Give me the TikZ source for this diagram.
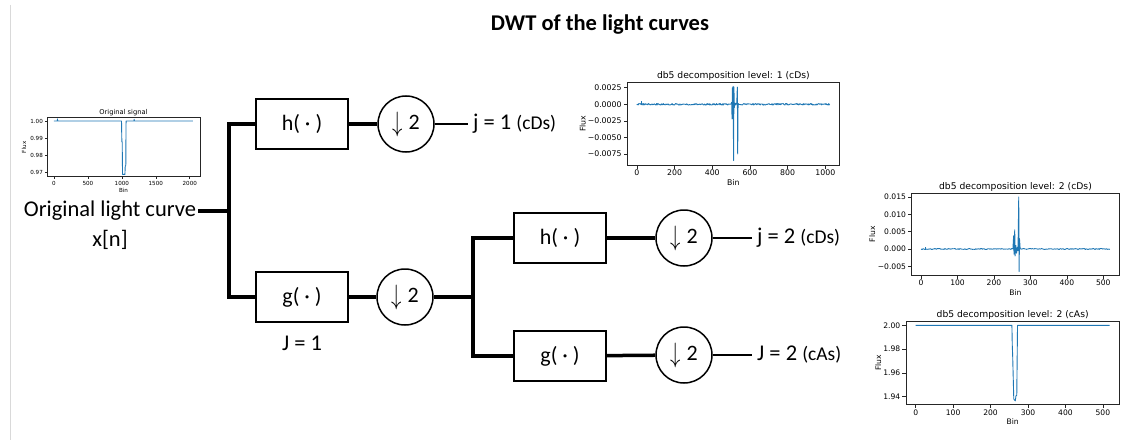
\documentclass[tikz,border=0pt]{standalone}
\usepackage{fontspec}
\setmainfont{Carlito}
\newfontfamily\plotfont{DejaVu Sans}
\usepackage{graphicx}
\usepackage{xcolor}
\usepackage{tikz}
\definecolor{mplblue}{HTML}{1F77B4}

\begin{document}
\begin{tikzpicture}[
    x=1pt, y=-1pt,
    filterbox/.style={draw=black, line width=1.5pt, minimum width=92pt, minimum height=50pt, inner sep=0pt, font=\fontsize{22}{26}\selectfont},
    downbox/.style={circle, draw=black, line width=1.5pt, minimum size=56pt, inner sep=0pt, font=\fontsize{22}{26}\selectfont},
    wire/.style={line width=3.5pt},
    thinwire/.style={line width=1.5pt},
    bigtext/.style={font=\fontsize{22.5}{27}\selectfont, inner sep=2pt},
    outlabel/.style={anchor=west, inner sep=5pt, font=\fontsize{22.5}{26}\selectfont},
    heading/.style={font=\bfseries\fontsize{22.5}{27}\selectfont},
    plotframe/.style={draw=black!85, line width=0.6pt},
    datacurve/.style={draw=mplblue, line width=0.9pt, line join=round},
    ticklab/.style={font=\plotfont\fontsize{#1}{#1}\selectfont, inner sep=0pt}
]
\useasboundingbox (0,0) rectangle (1121,444);
\pgfmathsetseed{42}
\draw[black!15, line width=1pt] (10,5) -- (10,440);

\node[heading] (title) at (600,25) {DWT of the light curves};

% filter bank
\node[bigtext] (src) at (110,211) {Original light curve};
\node[bigtext] (srcx) at (110,240) {x[n]};
\coordinate (split1) at (229,211);

\node[filterbox] (h1) at (302,124) {h(\ ·\ )};
\node[downbox] (d1) at (406,124) {\raisebox{-2pt}{\scalebox{1}[1.35]{$\downarrow$}}\;2};
\node[outlabel] (o1) at (468,124) {j = 1 {\fontsize{19.5}{22}\selectfont(cDs)}};

\node[filterbox] (g1) at (302,297) {g(\ ·\ )};
\node[downbox] (d2) at (405,297) {\raisebox{-2pt}{\scalebox{1}[1.35]{$\downarrow$}}\;2};
\node[bigtext] (lvl1) at (302,343) {J = 1};
\coordinate (split2) at (473,297);

\node[filterbox] (h2) at (560,238) {h(\ ·\ )};
\node[downbox] (d3) at (684,238) {\raisebox{-2pt}{\scalebox{1}[1.35]{$\downarrow$}}\;2};
\node[outlabel] (o3) at (752,238) {j = 2 {\fontsize{19.5}{22}\selectfont(cDs)}};

\node[filterbox] (g2) at (560,356) {g(\ ·\ )};
\node[downbox] (d4) at (684,355) {\raisebox{-2pt}{\scalebox{1}[1.35]{$\downarrow$}}\;2};
\node[outlabel] (o4) at (752,355) {J = 2 {\fontsize{19.5}{22}\selectfont(cAs)}};

\draw[wire] (src.east) -- (split1);
\draw[wire] (split1) |- (h1.west);
\draw[wire] (split1) |- (g1.west);
\draw[wire] (h1) -- (d1);
\draw[thinwire] (d1) -- (o1);
\draw[wire] (g1) -- (d2);
\draw[wire] (d2) -- (split2);
\draw[wire] (split2) |- (h2.west);
\draw[wire] (split2) |- (g2.west);
\draw[wire] (h2) -- (d3);
\draw[wire] (g2) -- (d4);
\draw[thinwire] (d3) -- (o3);
\draw[thinwire] (d4) -- (o4);

% original signal
\begin{scope}[shift={(53.95,172.7)}, x=0.0679pt, y=17.23pt]
  \draw[plotframe] (-102,-0.23) rectangle (2150,3.19);
  \foreach \t in {0,500,...,2000} {
    \draw[plotframe] (\t,-0.23) -- ++(0pt,-2.5pt);
    \node[ticklab=5.6, anchor=north, yshift=-4pt] at (\t,-0.23) {\t};
  }
  \foreach \v/\l in {0/0.97,1/0.98,2/0.99,3/1.00} {
    \draw[plotframe] (-102,\v) -- ++(-2.5pt,0pt);
    \node[ticklab=5.6, anchor=east, xshift=-4pt] at (-102,\v) {\l};
  }
  \draw[datacurve] (0,3) -- (50,3) -- (52,3.12) -- (54,3) -- (995,3) -- (1000,1.8) -- (1005,1.8) -- (1010,-0.1)
    -- (1045,-0.1) -- (1050,0.4) -- (1058,0.4) -- (1062,3) -- (1180,3) -- (1182,3.1) -- (1184,3) -- (2047,3);
  \node[ticklab=6.7, anchor=south, yshift=2pt] at (1024,3.19) {Original signal};
  \node[ticklab=5.6, anchor=north, yshift=-11pt] at (1024,-0.23) {Bin};
  \node[ticklab=5.6, rotate=90] at (-441,1.48) {Flux};
\end{scope}

% level 1 details
\begin{scope}[shift={(636.9,104.3)}, x=0.1884pt, y=6.62pt]
  \draw[plotframe] (-51,-9.17) rectangle (1075,3.32);
  \foreach \t in {0,200,...,1000} {
    \draw[plotframe] (\t,-9.17) -- ++(0pt,-3.5pt);
    \node[ticklab=7.8, anchor=north, yshift=-5pt] at (\t,-9.17) {\t};
  }
  \foreach \v/\l in {2.5/0.0025,0/0.0000,-2.5/−0.0025,-5/−0.0050,-7.5/−0.0075} {
    \draw[plotframe] (-51,\v) -- ++(-3.5pt,0pt);
    \node[ticklab=7.8, anchor=east, xshift=-5.5pt] at (-51,\v) {\l};
  }
  \draw[datacurve] (0,0) -- plot[domain=1:500, samples=170] (\x,{0.12*rand}) -- (503,0.3) -- (505,-2.2)
    -- (507,2.5) -- (509,-1.6) -- (511,2.7) -- (513,-8.5) -- (515,2.6) -- (517,-0.5) -- (520,0.2)
    -- plot[domain=522:530, samples=4] (\x,{0.15*rand}) -- (533,2.6) -- (535,-7.5) -- (537,0.1)
    -- plot[domain=540:1023, samples=170] (\x,{0.12*rand});
  \draw[datacurve] (25,0) -- (25,0.5);
  \node[ticklab=9.2, anchor=south, yshift=2pt] at (512,3.32) {db5 decomposition level: 1 (cDs)};
  \node[ticklab=7.8, anchor=north, yshift=-14pt] at (512,-9.17) {Bin};
  \node[ticklab=7.8, rotate=90] at (-288,-2.93) {Flux};
\end{scope}

% level 2 details
\begin{scope}[shift={(921.1,249)}, x=0.3643pt, y=3.47pt]
  \draw[plotframe] (-26,-7.5) rectangle (544,16.05);
  \foreach \t in {0,100,...,500} {
    \draw[plotframe] (\t,-7.5) -- ++(0pt,-3.5pt);
    \node[ticklab=7.6, anchor=north, yshift=-5pt] at (\t,-7.5) {\t};
  }
  \foreach \v/\l in {15/0.015,10/0.010,5/0.005,0/0.000,-5/−0.005} {
    \draw[plotframe] (-26,\v) -- ++(-3.5pt,0pt);
    \node[ticklab=7.6, anchor=east, xshift=-5.5pt] at (-26,\v) {\l};
  }
  \draw[datacurve] (0,0) -- plot[domain=1:251, samples=110] (\x,{0.15*rand}) -- (252,0) -- (254,3.8)
    -- (255,-1.5) -- (257,5.5) -- (258,-2) -- (260,1) -- (262,-1.2) -- (264,0.5) -- (266,-0.5)
    -- (268,15) -- (269,-6.5) -- (270,3) -- (272,0)
    -- plot[domain=274:518, samples=110] (\x,{0.15*rand});
  \draw[datacurve] (12,0) -- (12,0.7);
  \node[ticklab=9.2, anchor=south, yshift=2pt] at (259,16.05) {db5 decomposition level: 2 (cDs)};
  \node[ticklab=7.6, anchor=north, yshift=-14pt] at (259,-7.5) {Bin};
  \node[ticklab=7.6, rotate=90] at (-134,4.27) {Flux};
\end{scope}

% level 2 approximation
\begin{scope}[shift={(915.7,396.7)}, x=0.3743pt, y=11.9pt]
  \draw[plotframe] (-26,-0.67) rectangle (544,6.34);
  \foreach \t in {0,100,...,500} {
    \draw[plotframe] (\t,-0.67) -- ++(0pt,-3.5pt);
    \node[ticklab=7.6, anchor=north, yshift=-5pt] at (\t,-0.67) {\t};
  }
  \foreach \v/\l in {6/2.00,4/1.98,2/1.96,0/1.94} {
    \draw[plotframe] (-26,\v) -- ++(-3.5pt,0pt);
    \node[ticklab=7.6, anchor=east, xshift=-5.5pt] at (-26,\v) {\l};
  }
  \draw[datacurve] (0,6) -- (257,6) -- (258,4.3) -- (259,3.5) -- (262,-0.2) -- (266,-0.35)
    -- (268,0.1) -- (270,0.1) -- (272,6) -- (518,6);
  \node[ticklab=9.2, anchor=south, yshift=2pt] at (259,6.34) {db5 decomposition level: 2 (cAs)};
  \node[ticklab=7.6, anchor=north, yshift=-14pt] at (259,-0.67) {Bin};
  \node[ticklab=7.6, rotate=90] at (-100,2.83) {Flux};
\end{scope}
\end{tikzpicture}
\end{document}
